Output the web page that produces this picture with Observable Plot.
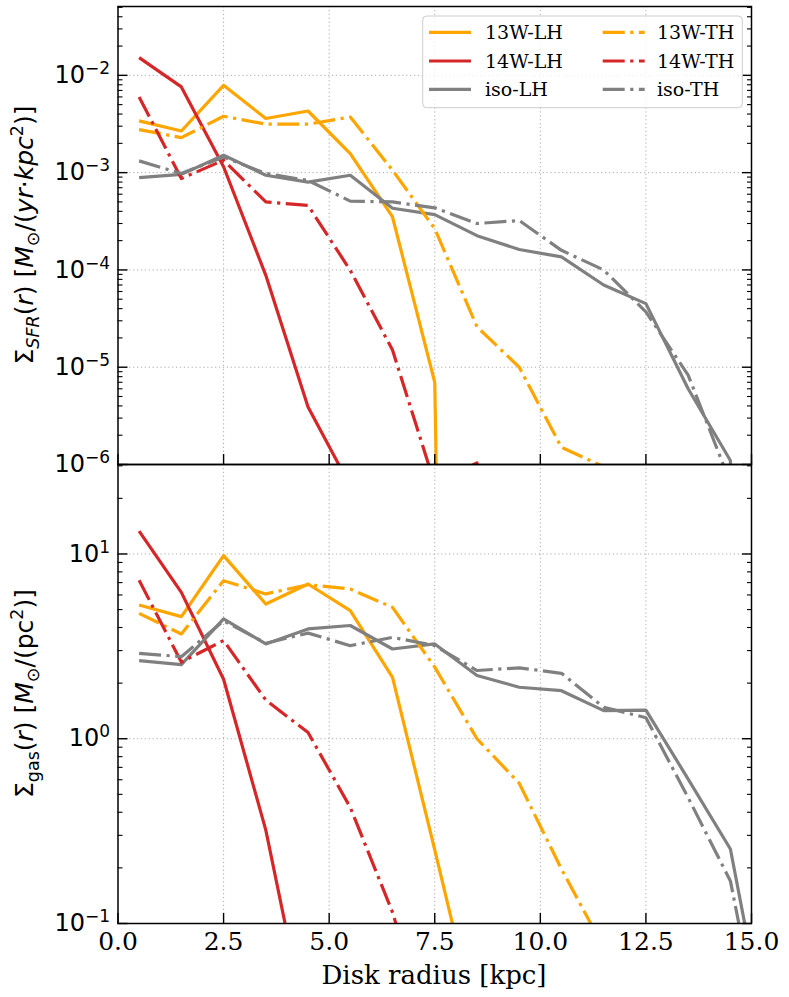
<!DOCTYPE html>
<html><head><meta charset="utf-8">
<script src="https://cdn.jsdelivr.net/npm/d3@7"></script>
<script src="https://cdn.jsdelivr.net/npm/@observablehq/plot@0.6"></script>
<style>
body{margin:0;background:#fff;}
#chart{width:789px;height:997px;position:relative;}
#chart svg{display:block;}
</style>
</head><body><div id="chart"></div>
<script>
// ---- data (bin centres in kpc) ----
const radius = [0.5,1.5,2.5,3.5,4.5,5.5,6.5,7.5,8.5,9.5,10.5,11.5,12.5,13.5,14.5,15.5];

// star formation surface density [Msun/(yr kpc^2)]
const sfr13W_LH = [3.4e-3,2.68e-3,7.9e-3,3.6e-3,4.3e-3,1.57e-3,3.5e-4,7.0e-6,0,0,0,0,0,0,0,0];
const sfr14W_LH = [1.52e-2,7.6e-3,1.15e-3,8.8e-5,3.9e-6,6e-7,0,0,0,0,0,0,0,0,0,0];
const sfrIso_LH = [8.9e-4,9.6e-4,1.51e-3,9.4e-4,8.0e-4,9.4e-4,4.3e-4,3.7e-4,2.25e-4,1.62e-4,1.36e-4,7.0e-5,4.5e-5,6.0e-6,1.1e-6,0];
const sfr13W_TH = [2.77e-3,2.29e-3,3.8e-3,3.15e-3,3.15e-3,3.73e-3,1.06e-3,2.65e-4,2.6e-5,1.0e-5,1.5e-6,9.5e-7,0,0,0,0];
const sfr14W_TH = [6.0e-3,8.7e-4,1.34e-3,5.0e-4,4.6e-4,9.9e-5,1.5e-5,6.3e-7,1.04e-6,0,0,0,0,0,0,0];
const sfrIso_TH = [1.32e-3,9.8e-4,1.45e-3,9.8e-4,8.3e-4,5.1e-4,5.0e-4,4.35e-4,3.0e-4,3.22e-4,1.59e-4,1.0e-4,3.7e-5,8.3e-6,6.5e-7,0];

// gas surface density [Msun/pc^2]
const gas13W_LH = [5.3,4.58,9.8,5.36,6.88,4.94,2.15,0.25,0.028,0,0,0,0,0,0,0];
const gas14W_LH = [13.3,6.2,2.1,0.32,0.025,0,0,0,0,0,0,0,0,0,0,0];
const gasIso_LH = [2.65,2.52,4.45,3.26,3.93,4.1,3.06,3.26,2.2,1.9,1.82,1.42,1.43,0.605,0.253,0.0164];
const gas13W_TH = [4.77,3.69,7.17,6.08,6.82,6.46,5.14,2.44,1.0,0.574,0.197,0.074,0,0,0,0];
const gas14W_TH = [7.2,2.6,3.4,1.62,1.08,0.425,0.115,0.02,0,0,0,0,0,0,0,0];
const gasIso_TH = [2.9,2.78,4.35,3.29,3.73,3.19,3.54,3.19,2.34,2.42,2.26,1.48,1.3,0.48,0.17,0.012];

const seriesNames = ["13W-LH","14W-LH","iso-LH","13W-TH","14W-TH","iso-TH"];
const xTicks = [0,2.5,5,7.5,10,12.5,15];
const sfrTicks = [1e-6,1e-5,1e-4,1e-3,1e-2];
const gasTicks = [0.1,1,10];
const sfrDomain = [1e-6,0.051];
const gasDomain = [0.1,30.5];

// ---- styles ----
const colorOf = {"13W":"#FFA500","14W":"#D62728","iso":"#808080"};
const LW = 3.2;
const DASH = "22,5.5,3.2,5.5";
const styleOf = name => ({
  stroke: colorOf[name.split("-")[0]],
  strokeDasharray: name.endsWith("TH") ? DASH : null
});

const sfrSeries = [sfr13W_LH,sfr14W_LH,sfrIso_LH,sfr13W_TH,sfr14W_TH,sfrIso_TH];
const gasSeries = [gas13W_LH,gas14W_LH,gasIso_LH,gas13W_TH,gas14W_TH,gasIso_TH];

function minorTicks(domain){
  const out=[];
  for(let k=Math.floor(Math.log10(domain[0]));k<=Math.ceil(Math.log10(domain[1]));k++)
    for(let m=2;m<=9;m++){const v=m*Math.pow(10,k); if(v>domain[0]&&v<domain[1]) out.push(v);}
  return out;
}

function panel({series, domain, majors, height, marginTop, marginBottom, showX}){
  const minors = minorTicks(domain);
  const grid = {stroke:"#b0b0b0", strokeOpacity:1, strokeWidth:1, strokeDasharray:"1.3,2.6"};
  const marks = [
    Plot.gridX(xTicks.slice(1,-1), grid),
    Plot.gridY(majors, grid)
  ];
  series.forEach((vals,i)=>{
    const rows = radius.map((r,j)=>({r, v: vals[j]}));
    marks.push(Plot.line(rows, {
      x:"r", y: d => d.v > 0 ? d.v : 1e-30,   // non-positive values clipped like matplotlib
      ...styleOf(seriesNames[i]), strokeWidth: LW, strokeLinejoin:"round", strokeLinecap:"butt", clip:true
    }));
  });
  const tk = {fill:"none", stroke:"black", label:null};
  marks.push(
    Plot.axisY(majors, {anchor:"left", tickSize:-10, strokeWidth:1.4, ...tk}),
    Plot.axisY(minors, {anchor:"left", tickSize:-5, strokeWidth:1.1, ...tk}),
    Plot.axisY(majors, {anchor:"right", tickSize:-10, strokeWidth:1.4, ...tk}),
    Plot.axisY(minors, {anchor:"right", tickSize:-5, strokeWidth:1.1, ...tk}),
    Plot.axisX(xTicks, {anchor:"bottom", tickSize:-10, strokeWidth:1.4, ...tk}),
    Plot.axisY(majors, {anchor:"left", tickSize:0, tickPadding:8, label:null,
      tickFormat: d => "10^" + Math.round(Math.log10(d)),
      fontFamily:"DejaVu Sans", fontSize:24, fill:"black"}),
    Plot.frame({stroke:"black", strokeWidth:1.5})
  );
  if(showX) marks.push(Plot.axisX(xTicks, {anchor:"bottom", tickSize:0, tickPadding:9, label:null,
      tickFormat: d3.format(".1f"), fontFamily:"DejaVu Serif", fontSize:25, fill:"black"}));
  const svg = Plot.plot({
    width:789, height, marginLeft:117.5, marginRight:38, marginTop, marginBottom,
    style:{background:"transparent", overflow:"visible", color:"black"},
    x:{domain:[0,15]},
    y:{type:"log", domain},
    marks
  });
  // superscript exponents in tick labels
  svg.querySelectorAll('g[aria-label="y-axis tick label"] text').forEach(t=>{
    const m = t.textContent.match(/^10\^(-?\d+)$/);
    if(!m) return;
    t.textContent = "";
    const a = document.createElementNS("http://www.w3.org/2000/svg","tspan");
    a.textContent = "10";
    const b = document.createElementNS("http://www.w3.org/2000/svg","tspan");
    b.textContent = m[1].replace("-","\u2212");
    b.setAttribute("font-size","17");
    b.setAttribute("dy","-9");
    t.appendChild(a); t.appendChild(b);
  });
  return svg;
}

function rich(sel, parts, fs){
  let shift = 0;
  parts.forEach(p=>{
    const target = p.sub ? 0.24*fs : p.sup ? -0.42*fs : 0;
    const ts = sel.append("tspan").text(p.t)
      .attr("font-size", (p.sub||p.sup) ? 0.7*fs : fs)
      .attr("dy", target - shift);
    if(p.i) ts.attr("font-style","italic");
    shift = target;
  });
}

const chart = document.getElementById("chart");
const topSvg = panel({series:sfrSeries, domain:sfrDomain, majors:sfrTicks, height:464, marginTop:6, marginBottom:0, showX:false});
const botSvg = panel({series:gasSeries, domain:gasDomain, majors:gasTicks, height:533, marginTop:0, marginBottom:74, showX:true});
chart.appendChild(topSvg);
chart.appendChild(botSvg);

// y labels
const FS = 25;
const tl = d3.select(topSvg).append("text").attr("transform","translate(33,235) rotate(-90)")
  .attr("text-anchor","middle").attr("font-family","DejaVu Sans").attr("fill","black");
rich(tl, [{t:"\u03A3"},{t:"SFR",sub:1,i:1},{t:"("},{t:"r",i:1},{t:") ["},{t:"M",i:1},{t:"\u2299",sub:1},
  {t:"/("},{t:"yr",i:1},{t:"\u00B7"},{t:"kpc",i:1},{t:"2",sup:1},{t:")]"}], FS);
const bl = d3.select(botSvg).append("text").attr("transform","translate(33,229.5) rotate(-90)")
  .attr("text-anchor","middle").attr("font-family","DejaVu Sans").attr("fill","black");
rich(bl, [{t:"\u03A3"},{t:"gas",sub:1},{t:"("},{t:"r",i:1},{t:") ["},{t:"M",i:1},{t:"\u2299",sub:1},
  {t:"/(pc"},{t:"2",sup:1},{t:")]"}], FS);

// x label
d3.select(botSvg).append("text").attr("x",434).attr("y",520).attr("text-anchor","middle")
  .attr("font-family","DejaVu Serif").attr("font-size",26).attr("fill","black").text("Disk radius [kpc]");

// legend
const lg = d3.select(topSvg).append("g");
lg.append("rect").attr("x",422.7).attr("y",16).attr("width",319.6).attr("height",91.7).attr("rx",4)
  .attr("fill","white").attr("fill-opacity",0.8).attr("stroke","#cccccc").attr("stroke-width",1);
const rowsY = [32.3,61,89.3];
seriesNames.forEach((name,i)=>{
  const col = Math.floor(i/3), row = i%3;
  const x0 = col ? 602.7 : 429, tx = col ? 657 : 485;
  const s = styleOf(name);
  lg.append("line").attr("x1",x0).attr("x2",x0+42).attr("y1",rowsY[row]).attr("y2",rowsY[row])
    .attr("stroke",s.stroke).attr("stroke-width",LW).attr("stroke-dasharray",s.strokeDasharray);
  lg.append("text").attr("x",tx).attr("y",rowsY[row]).attr("dy","0.35em").attr("text-anchor","start")
    .attr("font-family","DejaVu Serif").attr("font-size",19).attr("fill","black").text(name);
});
</script>
</body></html>
